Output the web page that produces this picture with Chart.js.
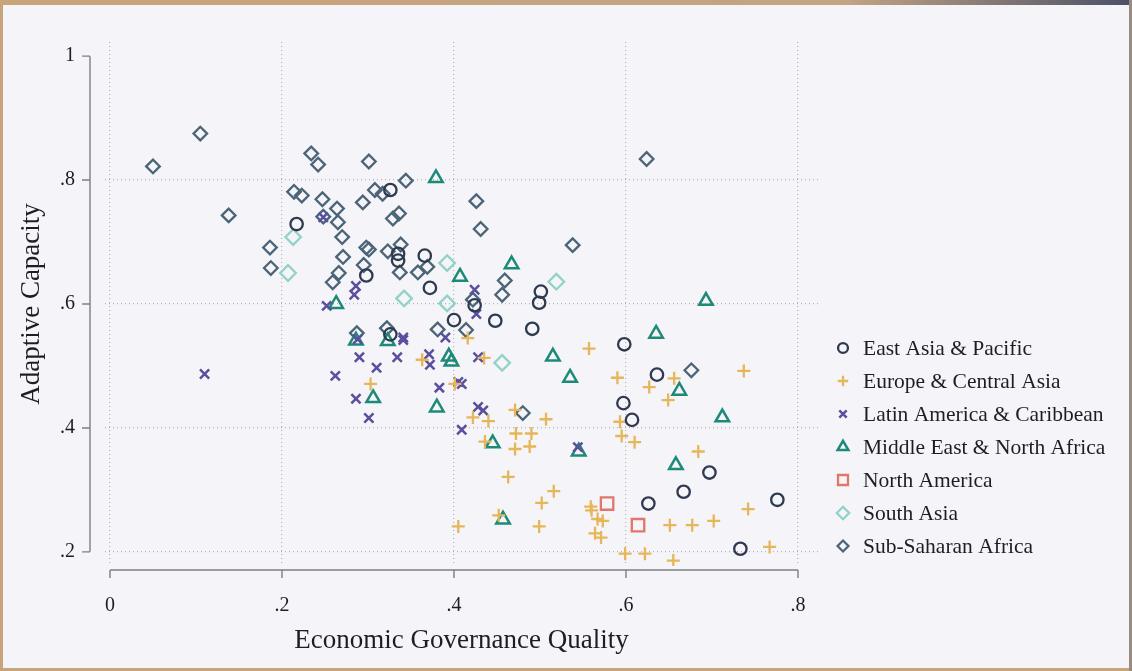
<!DOCTYPE html>
<html>
<head>
<meta charset="utf-8">
<script src="https://cdn.jsdelivr.net/npm/chart.js@4/dist/chart.umd.min.js"></script>
<style>
  html, body { margin: 0; padding: 0; background: #f5f4f8; }
  #wrap { width: 1132px; height: 671px; }
  canvas { display: block; }
</style>
</head>
<body>
<div id="wrap"><canvas id="c" width="1132" height="671"></canvas></div>
<script>
// Economic governance quality (x) vs adaptive capacity (y), one point per country
const eastAsiaPacific = [
  [.217,.729],[.326,.784],[.335,.681],[.335,.670],[.366,.678],[.298,.646],[.372,.626],
  [.424,.598],[.400,.574],[.448,.573],[.326,.551],[.501,.620],[.499,.602],[.491,.560],
  [.598,.535],[.636,.486],[.597,.440],[.607,.413],[.626,.278],[.667,.297],[.697,.328],
  [.776,.284],[.733,.205]
];
const europeCentralAsia = [
  [.416,.545],[.435,.513],[.363,.510],[.303,.471],[.401,.471],[.422,.417],[.440,.411],
  [.471,.429],[.507,.414],[.472,.391],[.490,.391],[.436,.378],[.471,.366],[.488,.370],
  [.463,.321],[.516,.298],[.502,.279],[.452,.259],[.499,.241],[.405,.241],[.559,.273],
  [.560,.267],[.567,.253],[.573,.250],[.564,.230],[.571,.223],[.557,.528],[.590,.481],
  [.656,.480],[.627,.466],[.649,.445],[.593,.410],[.595,.387],[.610,.377],[.684,.362],
  [.737,.492],[.742,.269],[.651,.243],[.677,.243],[.702,.250],[.599,.197],[.622,.197],
  [.655,.186],[.767,.208]
];
const latinAmericaCaribbean = [
  [.110,.487],[.248,.740],[.286,.629],[.284,.615],[.252,.597],[.424,.623],[.426,.584],
  [.288,.543],[.341,.546],[.341,.542],[.390,.546],[.290,.514],[.334,.514],[.371,.519],
  [.372,.502],[.428,.514],[.310,.497],[.262,.484],[.383,.465],[.405,.474],[.409,.471],
  [.286,.447],[.428,.434],[.434,.428],[.301,.416],[.409,.397],[.544,.369]
];
const middleEastNorthAfrica = [
  [.379,.803],[.407,.644],[.467,.664],[.263,.600],[.286,.541],[.323,.540],[.394,.515],
  [.397,.507],[.306,.448],[.380,.433],[.445,.375],[.457,.252],[.515,.515],[.535,.481],
  [.545,.362],[.635,.552],[.693,.605],[.662,.460],[.658,.340],[.712,.417]
];
const northAmerica = [[.578,.278],[.614,.243]];
const southAsia = [
  [.213,.708],[.207,.650],[.392,.666],[.342,.609],[.392,.601],[.519,.636],[.456,.505]
];
const subSaharanAfrica = [
  [.050,.822],[.105,.875],[.138,.743],[.186,.691],[.187,.658],[.214,.781],[.223,.775],
  [.234,.843],[.242,.825],[.247,.769],[.264,.754],[.294,.764],[.301,.830],[.308,.784],
  [.317,.778],[.344,.799],[.329,.738],[.336,.746],[.248,.741],[.265,.732],[.270,.708],
  [.271,.676],[.298,.691],[.301,.688],[.323,.685],[.338,.696],[.295,.663],[.266,.650],
  [.259,.635],[.337,.651],[.358,.651],[.369,.660],[.287,.553],[.322,.561],[.381,.559],
  [.414,.558],[.422,.607],[.426,.766],[.431,.721],[.459,.638],[.456,.615],[.538,.695],
  [.624,.834],[.676,.493],[.480,.424]
];

const xTickValues = [0, .2, .4, .6, .8];
const yTickValues = [.2, .4, .6, .8, 1];
const xTitle = 'Economic Governance Quality';
const yTitle = 'Adaptive Capacity';

const SERIF = '"Liberation Serif", "Times New Roman", serif';
const toPts = arr => arr.map(([x, y]) => ({x, y}));
const fmtTick = v => v === 0 ? '0' : v === 1 ? '1' : v.toFixed(1).replace(/^0/, '');

const series = [
  {label: 'East Asia & Pacific',        data: eastAsiaPacific,       style: 'circle',   r: 6.2, lw: 2.3, color: '#2e3a4f'},
  {label: 'Europe & Central Asia',      data: europeCentralAsia,     style: 'cross',    r: 6.5, lw: 2.3, color: '#e6b65a'},
  {label: 'Latin America & Caribbean',  data: latinAmericaCaribbean, style: 'crossRot', r: 6.5, lw: 2.5, color: '#5a4f9e'},
  {label: 'Middle East & North Africa', data: middleEastNorthAfrica, style: 'triangle', r: 7.8, lw: 2.5, color: '#1d8a78'},
  {label: 'North America',              data: northAmerica,          style: 'rect',     r: 8.8, lw: 2.3, color: '#e2766c'},
  {label: 'South Asia',                 data: southAsia,             style: 'rectRot',  r: 7.8, lw: 2.3, color: '#92d2c8'},
  {label: 'Sub-Saharan Africa',         data: subSaharanAfrica,      style: 'rectRot',  r: 6.8, lw: 2.3, color: '#4b6477'}
];

// Page frame and background
const framePlugin = {
  id: 'frame',
  beforeDraw(chart) {
    const {ctx, width, height} = chart;
    ctx.save();
    ctx.fillStyle = '#f5f4f8';
    ctx.fillRect(0, 0, width, height);
    const g = ctx.createLinearGradient(0, 0, width, 0);
    g.addColorStop(0, '#c8a47b');
    g.addColorStop(0.75, '#c2a383');
    g.addColorStop(1, '#4b5068');
    ctx.fillStyle = g;
    ctx.fillRect(0, 0, width, 5);
    ctx.fillStyle = '#c8a47b';
    ctx.fillRect(0, 0, 3, height);
    ctx.fillRect(0, height - 3, width, 3);
    ctx.fillStyle = '#9a8a80';
    ctx.fillRect(width - 3, 0, 3, height);
    ctx.restore();
  }
};

// Axis lines drawn offset from the plot region, spanning first to last tick
const axesPlugin = {
  id: 'offsetAxes',
  afterDraw(chart) {
    const {ctx} = chart;
    const xs = chart.scales.x, ys = chart.scales.y;
    const axisX = 90, axisY = 570, tick = 8;
    ctx.save();
    ctx.strokeStyle = '#7d7d85';
    ctx.lineWidth = 1.4;
    ctx.beginPath();
    const yTop = ys.getPixelForValue(yTickValues[yTickValues.length - 1]);
    const yBot = ys.getPixelForValue(yTickValues[0]);
    ctx.moveTo(axisX, yTop); ctx.lineTo(axisX, yBot);
    yTickValues.forEach(v => {
      const p = ys.getPixelForValue(v);
      ctx.moveTo(axisX - tick, p); ctx.lineTo(axisX, p);
    });
    const xL = xs.getPixelForValue(xTickValues[0]);
    const xR = xs.getPixelForValue(xTickValues[xTickValues.length - 1]);
    ctx.moveTo(xL, axisY); ctx.lineTo(xR, axisY);
    xTickValues.forEach(v => {
      const p = xs.getPixelForValue(v);
      ctx.moveTo(p, axisY); ctx.lineTo(p, axisY + tick);
    });
    ctx.stroke();
    ctx.restore();
  }
};

// Legend at the right, one marker and label per region
const legendPlugin = {
  id: 'sideLegend',
  afterDraw(chart) {
    const {ctx} = chart;
    const mx = 843, tx = 863, y0 = 348, step = 33;
    ctx.save();
    ctx.font = '21.5px ' + SERIF;
    ctx.textBaseline = 'middle';
    ctx.textAlign = 'left';
    chart.data.datasets.forEach((ds, i) => {
      const y = y0 + i * step;
      ctx.save();
      ctx.strokeStyle = ds.borderColor;
      ctx.fillStyle = 'rgba(0,0,0,0)';
      ctx.lineWidth = ds.pointBorderWidth;
      Chart.helpers.drawPoint(ctx, {
        pointStyle: ds.pointStyle, radius: ds.pointRadius * 0.8,
        borderWidth: ds.pointBorderWidth, rotation: 0
      }, mx, y);
      ctx.restore();
      ctx.fillStyle = '#1e1e22';
      ctx.fillText(ds.label, tx, y + 1);
    });
    ctx.restore();
  }
};

const gridColor = '#b4b3bc';

new Chart(document.getElementById('c'), {
  type: 'scatter',
  data: {
    datasets: series.map(s => ({
      label: s.label,
      data: toPts(s.data),
      pointStyle: s.style,
      pointRadius: s.r,
      pointHoverRadius: s.r,
      pointBorderWidth: s.lw,
      borderColor: s.color,
      backgroundColor: 'rgba(0,0,0,0)',
      showLine: false
    }))
  },
  options: {
    responsive: false,
    devicePixelRatio: 1,
    animation: false,
    events: [],
    layout: {padding: {left: 0, top: 10, right: 314, bottom: 0}},
    plugins: {legend: {display: false}, tooltip: {enabled: false}},
    scales: {
      x: {
        type: 'linear',
        min: -0.00581, max: 0.82326,
        afterFit(scale) { scale.height = 105; },
        afterBuildTicks(scale) { scale.ticks = xTickValues.map(v => ({value: v})); },
        grid: {color: gridColor, lineWidth: 1.2, drawTicks: false},
        border: {display: false, dash: [1, 3]},
        ticks: {
          callback: v => fmtTick(v), padding: 28, maxRotation: 0,
          color: '#1e1e22', font: {family: SERIF, size: 20}
        },
        title: {
          display: true, text: xTitle, color: '#1e1e22',
          font: {family: SERIF, size: 27}, padding: {top: 0, bottom: 14}
        }
      },
      y: {
        type: 'linear',
        min: 0.17719, max: 1.02281,
        afterFit(scale) { scale.width = 105; },
        afterBuildTicks(scale) { scale.ticks = yTickValues.map(v => ({value: v})); },
        grid: {
          color: c => (c.tick && c.tick.value === 1) ? 'rgba(0,0,0,0)' : gridColor,
          lineWidth: 1.2, drawTicks: false
        },
        border: {display: false, dash: [1, 3]},
        ticks: {
          callback: v => fmtTick(v), padding: 30,
          color: '#1e1e22', font: {family: SERIF, size: 20}
        },
        title: {
          display: true, text: yTitle, color: '#1e1e22',
          font: {family: SERIF, size: 27}, padding: {top: 16, bottom: 0}
        }
      }
    }
  },
  plugins: [framePlugin, axesPlugin, legendPlugin]
});
</script>
</body>
</html>
